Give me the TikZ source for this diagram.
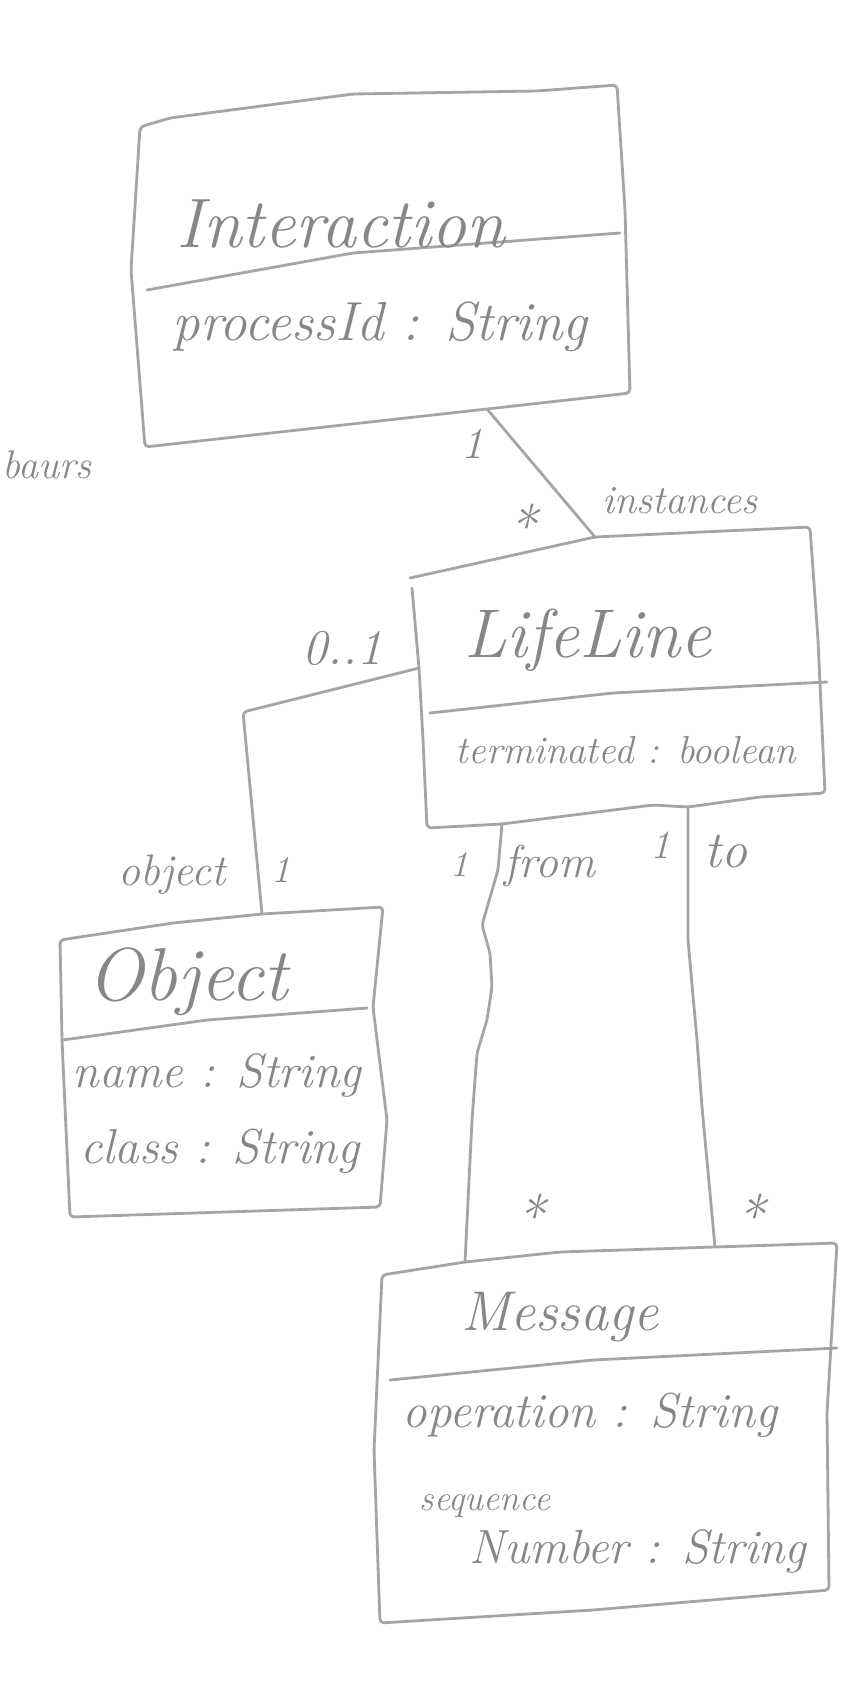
\documentclass[tikz,border=0pt]{standalone}
\usetikzlibrary{calc}

\definecolor{pencil}{RGB}{165,165,165}
\definecolor{graphite}{RGB}{135,135,135}
\newcommand\handsize[1]{\fontsize{#1}{#1}\selectfont}

\tikzset{
  pencilline/.style={draw=pencil, line width=2.8pt, line join=round, line cap=round, rounded corners=4pt},
  hand/.style={text=graphite, inner sep=0pt, font=\itshape},
  classname/.style={hand, anchor=base},
  attr/.style={hand, anchor=base},
  mult/.style={hand, anchor=base},
  star/.style={hand, font=\itshape\handsize{58}},
}

\begin{document}
\begin{tikzpicture}[x=1pt, y=-1pt]
  \fill[white] (0,0) rectangle (851,1705);
  \useasboundingbox (0,0) rectangle (851,1705);

  % ---------- Interaction ----------
  \coordinate (int-tl) at (140,127);
  \coordinate (int-tr) at (617,85);
  \coordinate (int-br) at (630,393);
  \coordinate (int-bl) at (145,447);
  \coordinate (int-dl) at (147,290);
  \coordinate (int-dr) at (620,233);
  \coordinate (int-foot) at (487,409);
  \draw[pencilline] (int-tl) -- (170,118) -- (353,94) -- (537,91) -- (int-tr)
     -- (625,210) -- (int-br) -- (int-foot) -- (int-bl) -- (131,270) -- cycle;
  \draw[pencilline] (int-dl) -- (353,253) -- (int-dr);
  \node[classname, font=\itshape\handsize{70}] (int-name) at (341,247) {Interaction};
  \node[attr, font=\itshape\handsize{55}] (int-attr) at (380,340) {processId : String};

  % ---------- LifeLine ----------
  \coordinate (ll-tl) at (410,578);
  \coordinate (ll-head) at (595,537);
  \coordinate (ll-tr) at (810,527);
  \coordinate (ll-br) at (825,793);
  \coordinate (ll-bl) at (427,828);
  \coordinate (ll-side) at (419,668);
  \coordinate (ll-from) at (502,824);
  \coordinate (ll-to) at (688,807);
  \coordinate (ll-dl) at (430,713);
  \coordinate (ll-dr) at (827,682);
  \draw[pencilline] (ll-tl) -- (ll-head) -- (ll-tr) -- (818,640) -- (ll-br)
     -- (760,797) -- (ll-to) -- (653,805) -- (ll-from) -- (ll-bl)
     -- (423,740) -- (ll-side) -- (412,588);
  \draw[pencilline] (ll-dl) -- (613,693) -- (ll-dr);
  \node[classname, font=\itshape\handsize{69}] (ll-name) at (588,657) {LifeLine};
  \node[attr, font=\itshape\handsize{39}] (ll-attr) at (626,763) {terminated : boolean};

  % ---------- Object ----------
  \coordinate (obj-tl) at (60,940);
  \coordinate (obj-tr) at (383,907);
  \coordinate (obj-br) at (380,1207);
  \coordinate (obj-bl) at (70,1217);
  \coordinate (obj-head) at (262,914);
  \coordinate (obj-dl) at (63,1040);
  \coordinate (obj-dr) at (367,1008);
  \draw[pencilline] (obj-tl) -- (173,923) -- (obj-head) -- (obj-tr) -- (373,1007)
     -- (387,1120) -- (obj-br) -- (obj-bl) -- (62,1040) -- cycle;
  \draw[pencilline] (obj-dl) -- (207,1020) -- (obj-dr);
  \node[classname, font=\itshape\handsize{75}] (obj-name) at (188,1000) {Object};
  \node[attr, font=\itshape\handsize{48}] (obj-attr1) at (217,1087) {name : String};
  \node[attr, font=\itshape\handsize{49}] (obj-attr2) at (220,1163) {class : String};

  % ---------- Message ----------
  \coordinate (msg-tl) at (382,1275);
  \coordinate (msg-from) at (465,1262);
  \coordinate (msg-to) at (715,1247);
  \coordinate (msg-tr) at (837,1243);
  \coordinate (msg-br) at (829,1590);
  \coordinate (msg-bl) at (380,1623);
  \coordinate (msg-dl) at (390,1380);
  \coordinate (msg-dr) at (837,1348);
  \draw[pencilline] (msg-tl) -- (msg-from) -- (560,1252) -- (msg-to) -- (msg-tr)
     -- (827,1413) -- (msg-br) -- (593,1610) -- (msg-bl) -- (374,1450) -- cycle;
  \draw[pencilline] (msg-dl) -- (593,1360) -- (msg-dr);
  \node[classname, font=\itshape\handsize{56}] (msg-name) at (560,1330) {Message};
  \node[attr, font=\itshape\handsize{49}] (msg-attr1) at (590,1427) {operation : String};
  \node[attr, font=\itshape\handsize{36}] (msg-seq) at (485,1510) {sequence};
  \node[attr, font=\itshape\handsize{48}] (msg-num) at (638,1563) {Number : String};

  % ---------- associations ----------
  \draw[pencilline] (int-foot) -- (ll-head);
  \draw[pencilline] (ll-side) -- (243,712) -- (obj-head);
  \draw[pencilline] (ll-from) -- (498,870) -- (482,925) -- (490,953) -- (492,987)
     -- (487,1020) -- (477,1053) -- (472,1120) -- (msg-from);
  \draw[pencilline] (ll-to) -- (688,940) -- (697,1040) -- (702,1107) -- (msg-to);

  % ---------- role names and multiplicities ----------
  \node[mult, font=\itshape\handsize{44}] (m-int) at (472,458) {1};
  \node[star] (m-inst) at (522,526) {*};
  \node[mult, font=\itshape\handsize{40}] (r-inst) at (680,513) {instances};
  \node[mult, font=\itshape\handsize{50}] (m-ll-obj) at (342,664) {0..1};
  \node[mult, font=\itshape\handsize{44}] (r-obj) at (172,885) {object};
  \node[mult, font=\itshape\handsize{38}] (m-obj) at (281,882) {1};
  \node[mult, font=\itshape\handsize{36}] (m-from) at (459,876) {1};
  \node[mult, font=\itshape\handsize{46}] (r-from) at (550,877) {from};
  \node[mult, font=\itshape\handsize{40}] (m-to) at (660,858) {1};
  \node[mult, font=\itshape\handsize{52}] (r-to) at (726,867) {to};
  \node[star] (m-msg-from) at (530,1216) {*};
  \node[star] (m-msg-to) at (750,1216) {*};

  % ---------- margin note ----------
  \node[hand, anchor=base east, font=\itshape\handsize{40}] (note) at (92,478) {baurs};
\end{tikzpicture}
\end{document}
